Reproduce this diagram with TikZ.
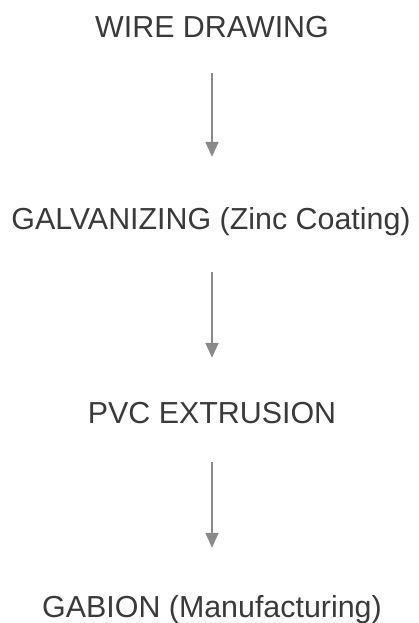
\documentclass[tikz,border=0pt]{standalone}
\usepackage{fontspec}
\setmainfont{Liberation Sans}
\usetikzlibrary{arrows.meta}
\definecolor{txt}{HTML}{3A3A3A}
\definecolor{arr}{HTML}{8A8A8A}
\begin{document}
\begin{tikzpicture}[x=1pt,y=-1pt,
  label/.style={anchor=base,inner sep=0pt,text=txt,text height=22pt,text depth=7pt,
    font=\fontsize{30.4}{32}\selectfont},
  flow/.style={draw=arr,line width=1.8pt,-{Triangle[length=15pt,width=13pt]}}]
\useasboundingbox (0,0) rectangle (418,623);
\fill[white] (0,0) rectangle (418,623);
\node[label] (wire) at (212,38) {WIRE DRAWING};
\node[label] (galv) at (211,229) {GALVANIZING (Zinc Coating)};
\node[label] (pvc) at (212,423) {PVC EXTRUSION};
\node[label] (gab) at (212,617) {GABION (Manufacturing)};
\draw[flow,shorten <=28pt,shorten >=50pt] (wire.south) -- (wire.south |- galv.north);
\draw[flow,shorten <=36pt,shorten >=43pt] (wire.south |- galv.south) -- (wire.south |- pvc.north);
\draw[flow,shorten <=32pt,shorten >=47pt] (wire.south |- pvc.south) -- (wire.south |- gab.north);
\end{tikzpicture}
\end{document}
